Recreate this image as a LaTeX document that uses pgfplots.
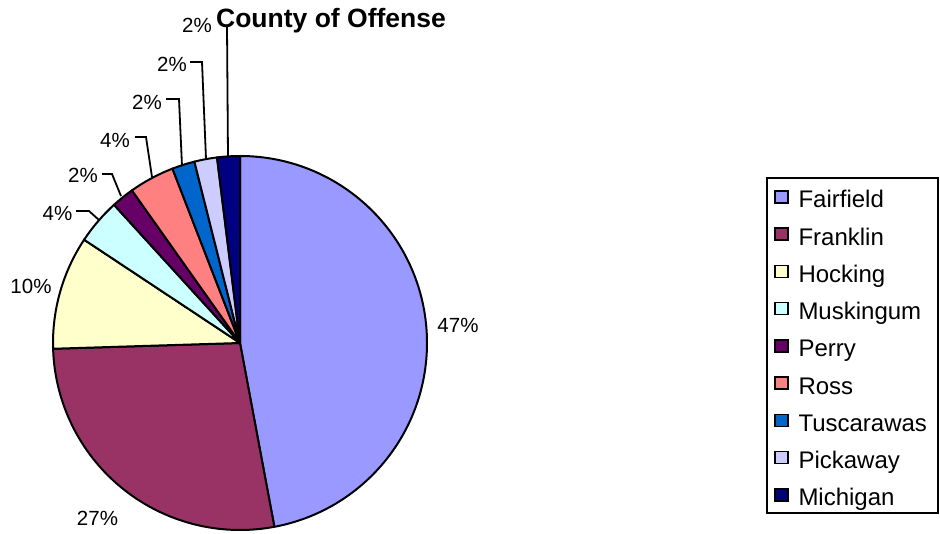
\documentclass[border=0pt]{standalone}
\usepackage{pgfplots}
\usepackage{pgfplotstable}
\pgfplotsset{compat=1.18}
\usepackage{fontspec}
\setmainfont{Liberation Sans}

\definecolor{pie0}{HTML}{9999FF}
\definecolor{pie1}{HTML}{993366}
\definecolor{pie2}{HTML}{FFFFCC}
\definecolor{pie3}{HTML}{CCFFFF}
\definecolor{pie4}{HTML}{660066}
\definecolor{pie5}{HTML}{FF8080}
\definecolor{pie6}{HTML}{0066CC}
\definecolor{pie7}{HTML}{CCCCFF}
\definecolor{pie8}{HTML}{000080}

\pgfplotstableread[col sep=comma]{
name,count
Fairfield,24
Franklin,14
Hocking,5
Muskingum,2
Perry,1
Ross,2
Tuscarawas,1
Pickaway,1
Michigan,1
}\piedata

\begin{document}
\begin{tikzpicture}
\def\pcum{0}
\pgfplotsforeachungrouped \i in {0,...,8}{%
  \pgfplotstablegetelem{\i}{count}\of\piedata
  \pgfmathsetmacro\pcum{\pcum+\pgfplotsretval}%
}
\let\ptotal\pcum
\def\pcum{0}
\begin{axis}[
  at={(0,0)}, anchor=south west,
  width=940pt, height=533pt, scale only axis,
  xmin=0, xmax=940, ymin=0, ymax=533,
  hide axis, clip=false,
  legend image code/.code={\filldraw[#1,draw=black,line width=1.5pt] (0pt,-6.5pt) rectangle (13pt,5.5pt);},
  legend cell align=left,
  legend style={
    at={(axis cs:766,356)}, anchor=north west,
    draw=black, line width=2pt,
    font=\fontsize{24pt}{28pt}\selectfont,
    inner xsep=7pt, inner ysep=7pt,
    row sep=14.25pt, column sep=10pt,
    nodes={inner sep=0pt, text height=23pt, text depth=0pt, text width=132pt},
  },
]
\pgfplotsforeachungrouped \i in {0,...,8}{%
  \pgfplotstablegetelem{\i}{count}\of\piedata
  \pgfmathsetmacro\pstart{90-360*(\pcum/\ptotal)}%
  \pgfmathsetmacro\pcum{\pcum+\pgfplotsretval}%
  \pgfmathsetmacro\pstop{90-360*(\pcum/\ptotal)}%
  \pgfplotstablegetelem{\i}{name}\of\piedata
  \edef\temp{%
    \noexpand\filldraw[fill=pie\i,draw=black,line width=2pt,line join=round]
      (axis cs:240,190) -- ++(\pstart:187pt)
      arc[start angle=\pstart,end angle=\pstop,radius=187pt] -- cycle;
    \noexpand\addlegendimage{fill=pie\i}
    \noexpand\addlegendentry{\pgfplotsretval}%
  }%
  \temp
}

% leader lines
\draw[line width=1.8pt] (axis cs:227,507) -- (axis cs:228,376);
\draw[line width=1.8pt] (axis cs:190,471) -- (axis cs:202,471) -- (axis cs:206,374);
\draw[line width=1.8pt] (axis cs:166,434) -- (axis cs:179,434) -- (axis cs:182,367);
\draw[line width=1.8pt] (axis cs:135,396) -- (axis cs:146,396) -- (axis cs:152,356);
\draw[line width=1.8pt] (axis cs:102,359) -- (axis cs:112,359) -- (axis cs:121,337);
\draw[line width=1.8pt] (axis cs:76,322) -- (axis cs:89,322) -- (axis cs:99,313);

% data labels
\begin{scope}[every node/.style={font=\fontsize{20.5pt}{24pt}\selectfont, anchor=base, inner sep=0pt}]
\node at (axis cs:458,200) {47\%};
\node at (axis cs:97.5,8) {27\%};
\node at (axis cs:31,239) {10\%};
\node at (axis cs:57.5,312) {4\%};
\node at (axis cs:83,350) {2\%};
\node at (axis cs:115,385) {4\%};
\node at (axis cs:147,423) {2\%};
\node at (axis cs:172,461) {2\%};
\node at (axis cs:197,500) {2\%};
\end{scope}

\node[anchor=base, inner sep=0pt, font=\fontsize{26.5pt}{30pt}\selectfont\bfseries] at (axis cs:331,505) {County of Offense};
\end{axis}
\pgfresetboundingbox
\path[use as bounding box] (0,0) rectangle (940pt,533pt);
\end{tikzpicture}
\end{document}
